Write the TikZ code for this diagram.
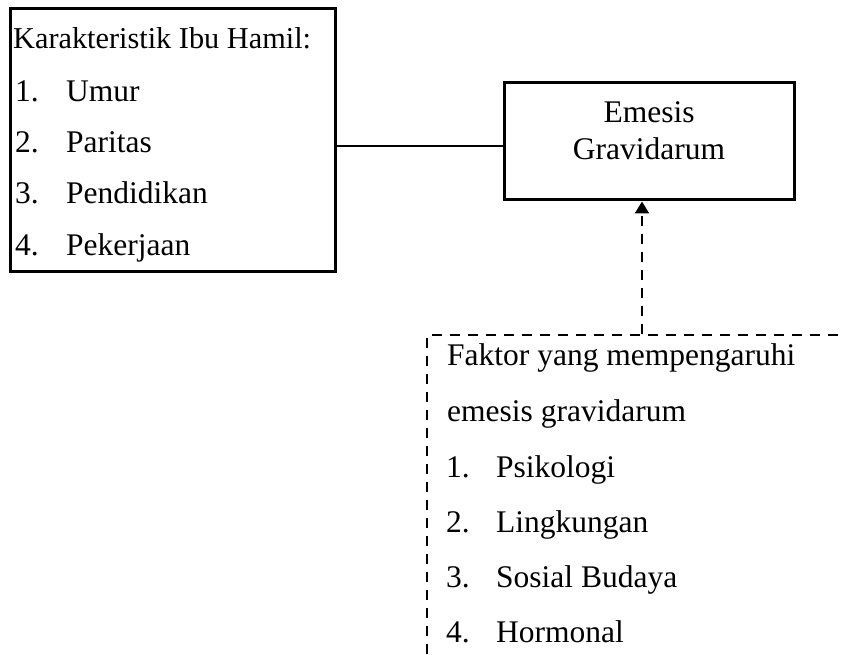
\documentclass[tikz,border=0pt]{standalone}
\usepackage{fontspec}
\setmainfont{Liberation Serif}
\usetikzlibrary{arrows.meta}
\begin{document}
\begin{tikzpicture}[x=1pt,y=-1pt,
  solidbox/.style={draw, line width=3pt, rectangle, inner sep=0pt},
  dashbox/.style={draw, line width=2pt, dash pattern=on 10pt off 8pt, rectangle, inner sep=0pt},
  txt/.style={font=\fontsize{31.5}{37}\selectfont, inner sep=0pt, anchor=base west},
  ctxt/.style={font=\fontsize{31.5}{37}\selectfont, inner sep=0pt, anchor=base},
  headtxt/.style={font=\fontsize{30.3}{36}\selectfont, inner sep=0pt, anchor=base west},
  link/.style={line width=2pt},
  dashlink/.style={line width=2pt, dash pattern=on 10pt off 8pt, -{Triangle[width=14pt,length=12pt]}},
]
\useasboundingbox (0,0) rectangle (843,655);
\clip (0,0) rectangle (843,655);
% boxes
\node[solidbox, minimum width=325pt, minimum height=262pt] (kar) at (172.5,140) {};
\node[solidbox, minimum width=290pt, minimum height=117pt] (eme) at (649,141.5) {};
\node[dashbox, minimum width=473pt, minimum height=365pt] (fak) at (663.5,517.5) {};
% left box text
\node[headtxt] (k0) at (13,49) {Karakteristik Ibu Hamil:};
\node[txt] (k1n) at (15,102) {1.};
\node[txt] (k1) at (66,102) {Umur};
\node[txt] (k2n) at (15,153) {2.};
\node[txt] (k2) at (66,153) {Paritas};
\node[txt] (k3n) at (15,204) {3.};
\node[txt] (k3) at (66,204) {Pendidikan};
\node[txt] (k4n) at (15,255) {4.};
\node[txt] (k4) at (66,255) {Pekerjaan};
% emesis text
\node[ctxt] (e1) at (649,123) {Emesis};
\node[ctxt] (e2) at (649,160) {Gravidarum};
% dashed box text
\node[txt] (f0) at (447,365) {Faktor yang mempengaruhi};
\node[txt] (f0b) at (447,421) {emesis gravidarum};
\node[txt] (f1n) at (446,477) {1.};
\node[txt] (f1) at (496,477) {Psikologi};
\node[txt] (f2n) at (446,532) {2.};
\node[txt] (f2) at (496,532) {Lingkungan};
\node[txt] (f3n) at (446,587) {3.};
\node[txt] (f3) at (496,587) {Sosial Budaya};
\node[txt] (f4n) at (446,642) {4.};
\node[txt] (f4) at (496,642) {Hormonal};
% connectors
\coordinate (jy) at (0,146);
\coordinate (ax) at (642,0);
\draw[link] (kar.east |- jy) -- (eme.west |- jy);
\draw[dashlink] (fak.north -| ax) -- (eme.south -| ax);
\end{tikzpicture}
\end{document}
